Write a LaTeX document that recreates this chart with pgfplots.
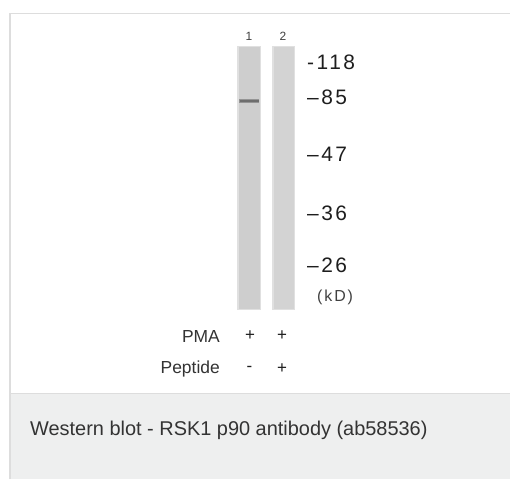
\documentclass[border=0pt]{standalone}
\usepackage{pgfplots}
\pgfplotsset{compat=1.18}
\usepackage{fontspec}
\setmainfont{Liberation Sans}
\newfontfamily\markfont[LetterSpace=12]{Liberation Sans}
\definecolor{bordergray}{HTML}{DDDDDD}
\definecolor{capbg}{HTML}{EEEFEF}
\definecolor{lanegray}{HTML}{CECECE}
\definecolor{laneedge}{HTML}{E0E0E0}
\definecolor{bandgray}{HTML}{6E6E6E}
\definecolor{txt}{HTML}{1E1E1E}
\definecolor{captxt}{HTML}{333333}
\begin{document}
\begin{tikzpicture}
\begin{axis}[
  width=510bp, height=479bp, scale only axis,
  xmin=0, xmax=510, ymin=0, ymax=479, y dir=reverse,
  axis lines=none, clip=true]
% white background
\addplot[fill=white, draw=none] coordinates {(0,0) (510,0) (510,479) (0,479)};
% caption background
\addplot[fill=capbg, draw=none] coordinates {(10,393) (510,393) (510,479) (10,479)};
% panel borders
\addplot[bordergray, line width=1.5bp] coordinates {(9.75,479) (9.75,13.75) (510,13.75)};
\addplot[bordergray, line width=1bp] coordinates {(10,393) (510,393)};
% lanes (soft edge, then body)
\addplot[fill=laneedge, draw=none] coordinates {(237,46) (261,46) (261,310) (237,310)};
\addplot[fill=lanegray, draw=none] coordinates {(238.5,47.5) (259.5,47.5) (259.5,308.5) (238.5,308.5)};
\addplot[fill=laneedge, draw=none] coordinates {(272,46) (295,46) (295,310) (272,310)};
\addplot[fill=lanegray!90!white, draw=none] coordinates {(273.5,47.5) (293.5,47.5) (293.5,308.5) (273.5,308.5)};
% band
\addplot[bandgray!60!lanegray, line width=4.5bp] coordinates {(239,101) (259,101)};
\addplot[bandgray, line width=2.2bp] coordinates {(239.5,101) (258.5,101)};
% lane numbers
\node[font=\fontsize{12}{13}\selectfont, text=black!75] at (axis cs:249,36) {1};
\node[font=\fontsize{12}{13}\selectfont, text=black!75] at (axis cs:283,36) {2};
% markers
\node[anchor=west, inner sep=0pt, font=\markfont\fontsize{21}{22}\selectfont, text=txt] at (axis cs:307,62.5) {-118};
\node[anchor=west, inner sep=0pt, font=\markfont\fontsize{21}{22}\selectfont, text=txt] at (axis cs:307,97.5) {–85};
\node[anchor=west, inner sep=0pt, font=\markfont\fontsize{21}{22}\selectfont, text=txt] at (axis cs:307,154) {–47};
\node[anchor=west, inner sep=0pt, font=\markfont\fontsize{21}{22}\selectfont, text=txt] at (axis cs:307,213) {–36};
\node[anchor=west, inner sep=0pt, font=\markfont\fontsize{21}{22}\selectfont, text=txt] at (axis cs:307,265.5) {–26};
\node[anchor=west, inner sep=0pt, font=\markfont\fontsize{16}{17}\selectfont, text=black!75] at (axis cs:317,297) {(kD)};
% treatment rows
\node[anchor=east, inner sep=0pt, font=\fontsize{17.5}{18}\selectfont, text=captxt] at (axis cs:220,336) {PMA};
\node[anchor=east, inner sep=0pt, font=\fontsize{17.5}{18}\selectfont, text=captxt] at (axis cs:220,369) {Peptide};
\node[font=\fontsize{17}{18}\selectfont, text=txt] at (axis cs:250,336) {+};
\node[font=\fontsize{17}{18}\selectfont, text=txt] at (axis cs:282,336) {+};
\node[font=\fontsize{17}{18}\selectfont, text=txt] at (axis cs:249.5,369) {-};
\node[font=\fontsize{17}{18}\selectfont, text=txt] at (axis cs:282,369) {+};
% caption
\node[anchor=west, inner sep=0pt, font=\fontsize{20}{21}\selectfont, text=captxt] at (axis cs:30,430) {Western blot - RSK1 p90 antibody (ab58536)};
\end{axis}
\pgfresetboundingbox
\path (current axis.south west) rectangle (current axis.north east);
\end{tikzpicture}
\end{document}
